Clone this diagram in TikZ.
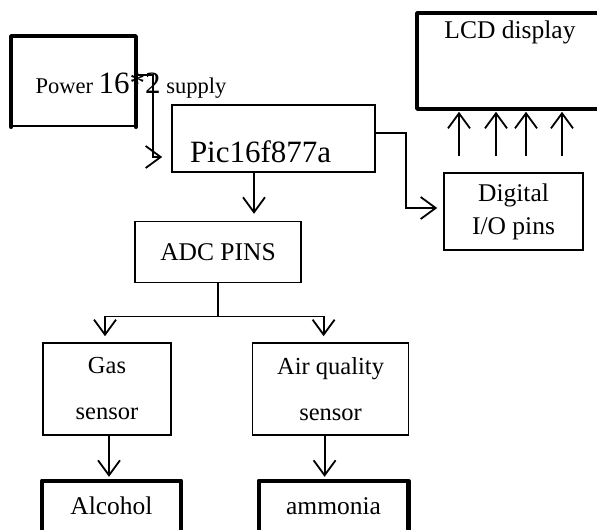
\documentclass[tikz,border=0pt]{standalone}
\usepackage{fontspec}
\setmainfont{Liberation Serif}
\usepackage{tikz}
\usetikzlibrary{positioning,arrows.meta,calc}

\newcommand\mainfnt{\fontsize{25.5}{33}\selectfont}
\newcommand\bigfnt{\fontsize{31}{36}\selectfont}
\newcommand\pwrfnt{\fontsize{22.5}{27}\selectfont}
\newcommand\sensfnt{\fontsize{24.5}{46}\selectfont}

\begin{document}
\begin{tikzpicture}[
  x=1pt, y=-1pt,
  box/.style={draw, line width=1.6pt, inner sep=0pt, align=center, font=\mainfnt},
  open/.style={box, draw=none},
  thk/.style={line width=4.5pt, line cap=round, line join=round},
  arr/.style={->, line width=1.8pt},
  >={Straight Barb[length=15pt, width=22pt]}
]
  \useasboundingbox (0,0) rectangle (597,530);
  \clip (0,0) rectangle (597,530);

  \node[box, minimum width=123pt, minimum height=89pt] (pwr) at (73.5,81.5) {};
  \node[anchor=base west, font=\pwrfnt] (pwrtxt) at (32,93) {Power {\bigfnt 16*2} supply};
  \node[box, minimum width=203pt, minimum height=67pt, text width=167pt, inner xsep=18pt,
        align=left, text height=57pt, text depth=10pt, font=\bigfnt] (pic) at (273.5,138.5) {Pic16f877a};
  \node[open, minimum width=184pt, minimum height=94pt, text height=24pt, text depth=70pt] (lcd) at (510,61) {LCD display};
  \node[box, minimum width=139pt, minimum height=77pt] (dio) at (513.5,211.5) {Digital\\I/O pins};
  \node[box, minimum width=166pt, minimum height=61pt] (adc) [below=48pt of pic, xshift=-55.5pt] {ADC PINS};

  \node[box, minimum width=128pt, minimum height=92pt, font=\sensfnt] (gas) at (107,389) {Gas\\sensor};
  \node[box, minimum width=156pt, minimum height=92pt, font=\sensfnt] (air) [right=80pt of gas] {Air quality\\sensor};
  \node[open, minimum width=137pt, minimum height=70pt, text height=33pt, text depth=37pt] (alc) [below=45pt of gas, xshift=4.5pt] {Alcohol};
  \node[open, minimum width=148pt, minimum height=70pt, text height=33pt, text depth=37pt] (amm) [below=45pt of air, xshift=3pt] {ammonia};

  \draw[thk] (pwr.south west) -- (pwr.north west) -- (pwr.north east) -- (pwr.south east);
  \draw[thk] (lcd.north east) -- (lcd.north west) -- (lcd.south west) -- (lcd.south east);
  \draw[thk] ([yshift=-10pt]alc.south west) -- (alc.north west) -- (alc.north east) -- ([yshift=-10pt]alc.south east);
  \draw[thk] ([yshift=-10pt]amm.south west) -- (amm.north west) -- (amm.north east) -- ([yshift=-10pt]amm.south east);

  \draw[arr, shorten >=9pt] ([yshift=6.5pt]pwr.east) -- ++(17,0) |- ([yshift=-18.5pt]pic.west);
  \draw[arr, shorten >=7pt] ([xshift=-19.5pt]pic.south) -- ([xshift=36pt]adc.north);
  \draw[arr, shorten >=6pt] ([yshift=5.5pt]pic.east) -- ++(30,0) |- ([yshift=3.5pt]dio.west);
  \foreach \dx in {-54.5,-17.5,12.5,48.5} {
    \path ([xshift=\dx pt]dio.north) coordinate (pin);
    \draw[arr, shorten <=16pt, shorten >=3pt] (pin) -- (pin |- lcd.south);
  }
  \draw[line width=1.6pt] (adc.south) -- ++(0,33) coordinate (split);
  \draw[arr, shorten >=6pt] (split) -| ([xshift=-2pt]gas.north);
  \draw[arr, shorten >=6pt] (split) -| ([xshift=-7pt]air.north);
  \draw[arr, shorten >=4pt] ([xshift=2pt]gas.south) -- ([xshift=-2.5pt]alc.north);
  \draw[arr, shorten >=4pt] ([xshift=-6pt]air.south) -- ([xshift=-9pt]amm.north);
\end{tikzpicture}
\end{document}
